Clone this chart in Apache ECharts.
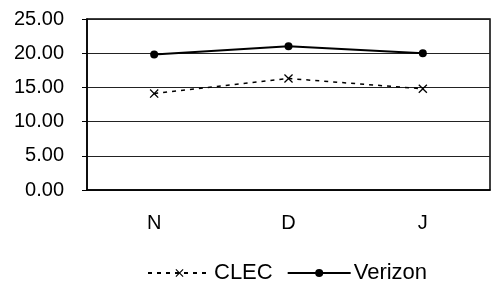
<!DOCTYPE html>
<html><head><meta charset="utf-8">
<script src="https://cdn.jsdelivr.net/npm/echarts@6/dist/echarts.min.js"></script>
<style>html,body{margin:0;padding:0;background:#fff}#c{width:501px;height:289px}</style>
</head><body><div id="c"></div>
<script>
var categories = ['N', 'D', 'J'];
var clecValues = [14.1, 16.3, 14.8];
var verizonValues = [19.8, 21.0, 20.0];
var yTicks = [0, 5, 10, 15, 20, 25];

var font = '"Liberation Sans", Arial, sans-serif';
var crossPath = 'path://M0,1L1,0L5,4L9,0L10,1L6,5L10,9L9,10L5,6L1,10L0,9L4,5Z';
var chart = echarts.init(document.getElementById('c'), null, {renderer: 'canvas'});
chart.setOption({
  animation: false,
  backgroundColor: '#fff',
  grid: {left: 87, right: 11, top: 19, bottom: 99, show: true, borderColor: '#000', borderWidth: 1.5},
  xAxis: {
    type: 'category', data: categories, boundaryGap: true,
    axisLine: {lineStyle: {color: '#000', width: 1.5}},
    axisTick: {show: false},
    axisLabel: {color: '#000', fontSize: 20, fontFamily: font, margin: 23}
  },
  yAxis: {
    type: 'value', min: yTicks[0], max: yTicks[yTicks.length - 1], interval: 5,
    axisLine: {show: true, lineStyle: {color: '#000', width: 1.5}},
    axisTick: {show: true, length: 5, lineStyle: {color: '#000'}},
    splitLine: {show: true, lineStyle: {color: '#222', width: 1}},
    axisLabel: {color: '#000', fontSize: 20, fontFamily: font, margin: 23,
      formatter: function (v) { return v.toFixed(2); }}
  },
  legend: {
    bottom: 0, left: 142, itemWidth: 63, itemHeight: 10, itemGap: 14,
    textStyle: {color: '#000', fontSize: 22, fontFamily: font, padding: [0, 0, 0, -2]},
    data: ['CLEC', 'Verizon']
  },
  series: [
    {name: 'CLEC', type: 'line', data: clecValues, symbol: crossPath, symbolSize: 9,
     lineStyle: {color: '#000', width: 1.5, type: [4, 5]}, itemStyle: {color: '#000'}},
    {name: 'Verizon', type: 'line', data: verizonValues, symbol: 'circle', symbolSize: 8,
     lineStyle: {color: '#000', width: 2}, itemStyle: {color: '#000'}}
  ]
});
</script></body></html>
